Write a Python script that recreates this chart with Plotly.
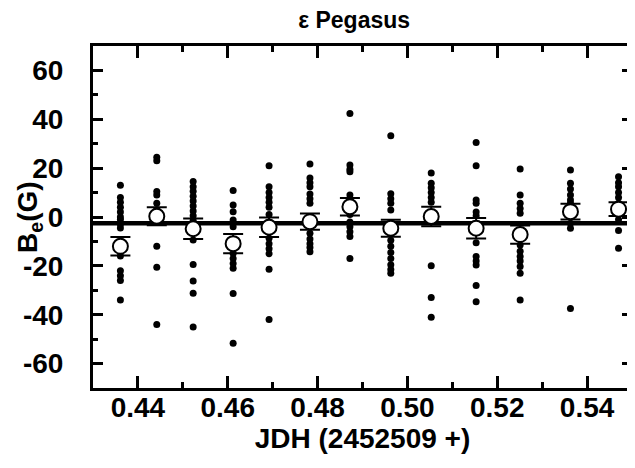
import plotly.graph_objects as go

# group times (JDH - 2452509)
jd = [0.4361, 0.4442, 0.4523, 0.4612, 0.4692, 0.4783, 0.4872,
      0.4963, 0.5053, 0.5153, 0.5251, 0.5363, 0.5470]

# individual measurements, one list per group
be_points = [
    [13, 8, 6, 4, 2, 0, -1, -3, -4.5, -16, -22, -24, -26, -34],
    [24.5, 23, 10.4, 9, 5.6, 3, 0, -2, -12, -20.6, -44],
    [14.5, 12.4, 10.5, 8.5, 6.5, 4.5, 2.5, 0.5, -1.5, -9.4, -19.4, -26.2, -31.2, -45],
    [10.8, 4.9, 2.2, -1.2, -4, -14.9, -17, -19, -21, -31.3, -51.7],
    [21, 12.4, 10, 8, 6, 4, 1, -2, -8.7, -11, -13, -15, -21.4, -42],
    [21.7, 16, 14, 12.4, 9.4, 7.5, 5.6, -4, -6.7, -9, -11, -12.5, -14.2],
    [42.4, 21.3, 19.5, 18.5, 9, 7, 1, -2, -4, -6, -8, -17],
    [33.3, 9.5, 7.5, 5.6, 2.9, -9.5, -12, -14.5, -17, -19.5, -21.5, -23],
    [18, 13.8, 12, 10, 8, 6, -20, -33, -41],
    [30.5, 21, 7, 5.6, 2, 0.5, -10.5, -16.2, -18, -19.6, -28, -34.7],
    [19.6, 9, 5.6, 3.5, 1.5, -11.5, -14, -16.2, -18, -20.3, -23, -34],
    [19.2, 13.8, 11.5, 9, 7, 5.6, -2.6, -4.6, -37.5],
    [16.5, 14, 12.4, 10, 8, 5.6, 4, -1, -5.5, -12.8],
]

# group averages and their errors
be_mean = [-12, 0.3, -4.8, -10.9, -4.2, -1.9, 4.2, -4.6, 0.2, -4.6, -7.2, 2.2, 3.2]
be_err = [3.8, 3.7, 4.2, 3.9, 4.0, 3.3, 3.6, 3.5, 4.0, 4.2, 3.7, 3.2, 2.8]

# overall mean level
be_level = -2.6
x_range = [0.43, 0.55]
y_range = [-70, 70]
y_ticks = [-60, -40, -20, 0, 20, 40, 60]
y_minor = [-70, -50, -30, -10, 10, 30, 50, 70]

px, py = [], []
for t, vals in zip(jd, be_points):
    px += [t] * len(vals)
    py += vals

fig = go.Figure()
fig.add_trace(go.Scatter(
    x=px, y=py, mode='markers',
    marker=dict(color='black', size=7),
    showlegend=False
))
fig.add_trace(go.Scatter(
    x=x_range, y=[be_level, be_level], mode='lines',
    line=dict(color='black', width=4.5),
    showlegend=False
))
fig.add_trace(go.Scatter(
    x=jd, y=be_mean, mode='markers',
    marker=dict(color='white', size=15, line=dict(color='black', width=2)),
    error_y=dict(type='data', array=be_err, color='black', thickness=2, width=10),
    showlegend=False
))

# page body has an 8px margin, so the figure is a bit smaller than the window
font = dict(family='Liberation Sans, Arial', color='black', weight='bold')
fig.update_layout(
    width=627, height=452,
    margin=dict(l=85, r=3, t=38, b=72, autoexpand=False),
    paper_bgcolor='white', plot_bgcolor='white',
    title=dict(text='ε Pegasus', x=0.552, xanchor='center',
               yref='container', y=1 - 12 / 452, yanchor='middle',
               font=dict(size=23, **font)),
    font=font,
)
fig.add_annotation(
    text='B<sub>e</sub>(G)', textangle=-90, showarrow=False,
    xref='paper', yref='paper', x=0, y=0.5, xanchor='center', yanchor='middle',
    xshift=-64, font=dict(size=28, **font),
)

fig.update_xaxes(
    range=x_range, showgrid=False, zeroline=False, automargin=False,
    showline=True, linecolor='black', linewidth=3, mirror='allticks',
    ticks='inside', ticklen=12, tickwidth=2.5, tickcolor='black',
    tickmode='linear', tick0=0.44, dtick=0.02, tickformat='.2f',
    minor=dict(ticks='inside', ticklen=6, tickwidth=2.5, dtick=0.01, tick0=0.43, tickcolor='black'),
    tickfont=dict(size=28, **font), ticklabelstandoff=-8,
    title=dict(text='JDH (2452509 +)', font=dict(size=28, **font), standoff=2),
)
fig.update_yaxes(
    range=y_range, showgrid=False, zeroline=False, automargin=False,
    showline=True, linecolor='black', linewidth=3, mirror='allticks',
    ticks='inside', ticklen=10, tickwidth=2.5, tickcolor='black',
    tickmode='array', tickvals=y_ticks, ticktext=[str(v) for v in y_ticks],
    minor=dict(ticks='inside', ticklen=5, tickwidth=2.5, tickmode='array', tickvals=y_minor, tickcolor='black'),
    tickfont=dict(size=28, **font), ticklabelstandoff=21,
)

fig.write_html("out.html")
